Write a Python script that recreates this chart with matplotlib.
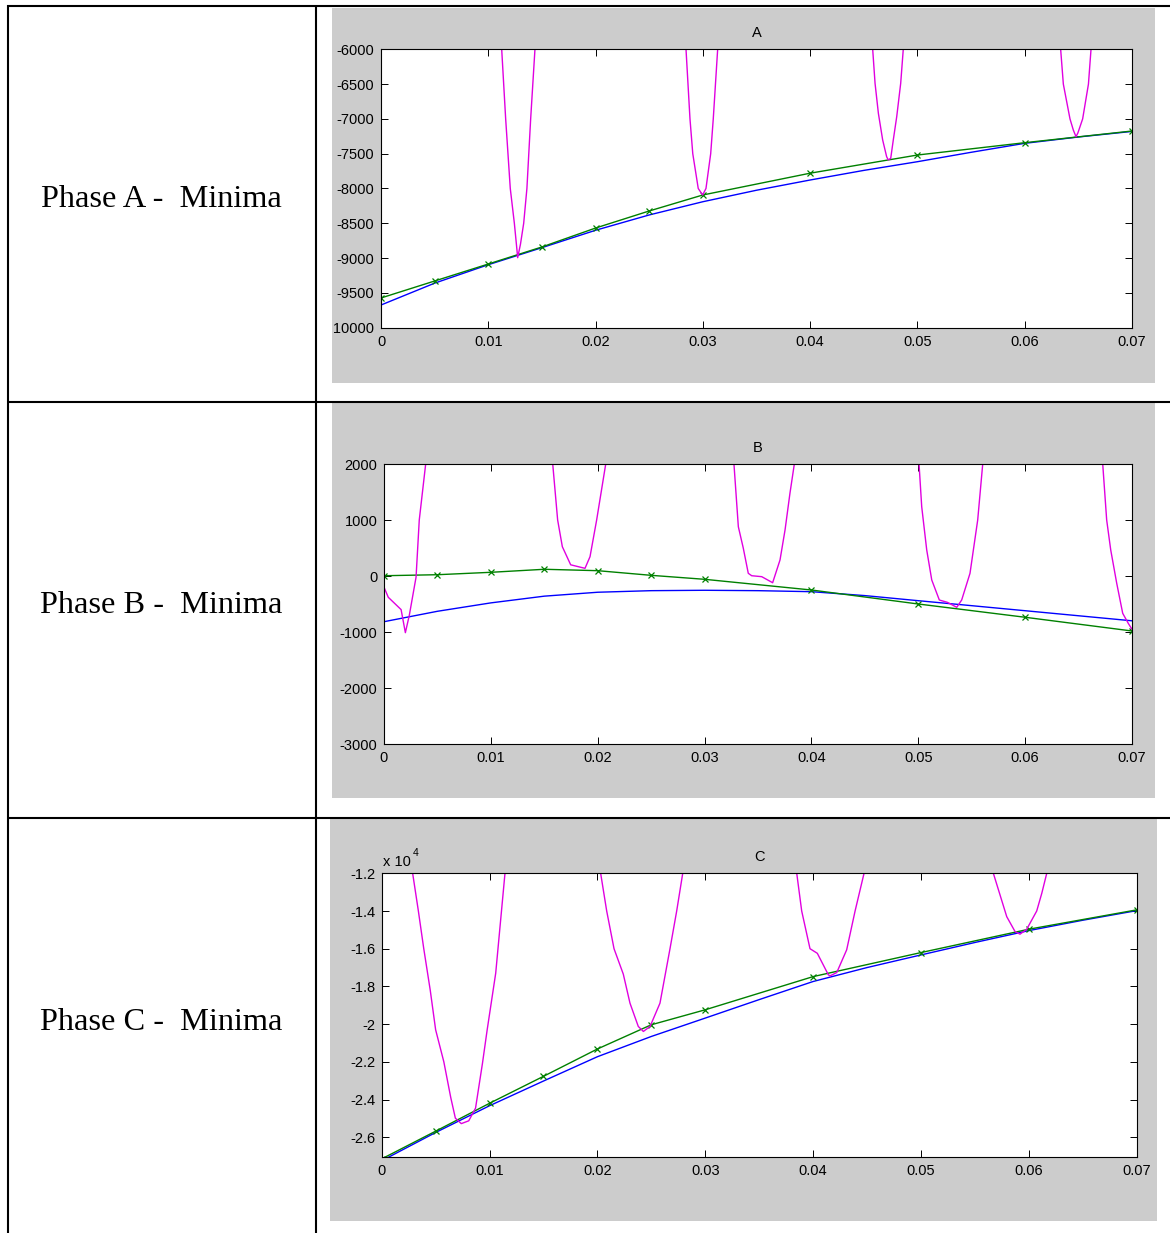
import matplotlib
matplotlib.use("Agg")
import matplotlib.pyplot as plt
from matplotlib.patches import Rectangle
from matplotlib.lines import Line2D
from matplotlib.transforms import Bbox, TransformedBbox
import numpy as np

plt.rcParams["font.family"] = ["Liberation Sans", "DejaVu Sans"]
plt.rcParams["axes.unicode_minus"] = False

# ---------------- data ----------------
x_ticks = [0, 0.01, 0.02, 0.03, 0.04, 0.05, 0.06, 0.07]
x_tick_labels = ["0", "0.01", "0.02", "0.03", "0.04", "0.05", "0.06", "0.07"]

# fitted curve with markers (green)
fit_x = [0, 0.005, 0.01, 0.015, 0.02, 0.025, 0.03, 0.04, 0.05, 0.06, 0.07]
# reference curve (blue), sampled every 0.005
ref_x = [0, 0.005, 0.01, 0.015, 0.02, 0.025, 0.03, 0.035, 0.04, 0.045,
         0.05, 0.055, 0.06, 0.065, 0.07]

# Phase A
fit_a = [-9573, -9329, -9085, -8840, -8568, -8323, -8093, -7780, -7519, -7342, -7174]
ref_a = [-9674, -9360, -9095, -8850, -8600, -8380, -8190, -8025, -7878, -7740,
         -7615, -7480, -7351, -7260, -7180]
mag_a_x = [0.01125, 0.01162, 0.01205, 0.01243, 0.01262, 0.01274, 0.01300, 0.01330, 0.01360, 0.01395, 0.01435, np.nan,
           0.02843, 0.02880, 0.02906, 0.02957, 0.02998, 0.03029, 0.03073, 0.03097, 0.03138, np.nan,
           0.04583, 0.04605, 0.04636, 0.04676, 0.04713, 0.04728, 0.04751, 0.04775, 0.04807, 0.04844, 0.04868, np.nan,
           0.06335, 0.06360, 0.06422, 0.06453, 0.06478, 0.06496, 0.06540, 0.06594, 0.06618]
mag_a_y = [-6000, -7000, -8000, -8500, -8800, -8994, -8800, -8500, -8000, -7000, -6000, np.nan,
           -6000, -7000, -7500, -8000, -8093, -8000, -7500, -7000, -6000, np.nan,
           -6000, -6489, -6920, -7303, -7543, -7590, -7566, -7303, -6968, -6489, -6000, np.nan,
           -6000, -6500, -7000, -7160, -7256, -7200, -7000, -6500, -6000]
y_ticks_a = [-10000, -9500, -9000, -8500, -8000, -7500, -7000, -6500, -6000]

# Phase B
fit_b = [5, 23, 66, 120, 95, 12, -59, -250, -500, -737, -982]
ref_b = [-816, -630, -480, -360, -290, -262, -255, -262, -280, -350,
         -441, -530, -620, -710, -800]
mag_b_x = [0, 0.0004, 0.0016, 0.0020, 0.00237, 0.0030, 0.0033, 0.0039, np.nan,
           0.01579, 0.01625, 0.01669, 0.01747, 0.01881, 0.01928, 0.01990, 0.02075, np.nan,
           0.03275, 0.03316, 0.03362, 0.03409, 0.03441, 0.03535, 0.03637, 0.03706, 0.03753, 0.03799, 0.03840, np.nan,
           0.05007, 0.05032, 0.05079, 0.05126, 0.05197, 0.05272, 0.05360, 0.05406, 0.05484, 0.05556, 0.05603, np.nan,
           0.06726, 0.06763, 0.06801, 0.06857, 0.06913, 0.06965, 0.07]
mag_b_y = [-200, -380, -600, -1012, -700, -20, 1000, 2000, np.nan,
           2000, 1000, 523, 200, 137, 345, 1000, 2000, np.nan,
           2000, 880, 500, 48, 5, -12, -120, 286, 821, 1477, 2000, np.nan,
           2000, 1238, 464, -71, -429, -470, -559, -429, 48, 1000, 2000, np.nan,
           2000, 1000, 464, -130, -666, -845, -952]
y_ticks_b = [-3000, -2000, -1000, 0, 1000, 2000]

# Phase C
fit_c = [-27150, -25680, -24200, -22770, -21320, -20035, -19240, -17480, -16205, -14966, -13940]
ref_c = [-27250, -25750, -24330, -23020, -21730, -20655, -19680, -18700, -17740, -17000,
         -16330, -15670, -15040, -14490, -13980]
mag_c_x = [0.00287, 0.0034, 0.0039, 0.0045, 0.0050, 0.00576, 0.0064, 0.00683, 0.00738, 0.00807, 0.0087, 0.00934, 0.00978, 0.01057, 0.01143, np.nan,
           0.0203, 0.02086, 0.02154, 0.0224, 0.02302, 0.02379, 0.02426, 0.02488, 0.0258, 0.02673, 0.02735, 0.02791, np.nan,
           0.03848, 0.03894, 0.03971, 0.04039, 0.04141, 0.04157, 0.04219, 0.04311, 0.04389, 0.04472, np.nan,
           0.05671, 0.05733, 0.05795, 0.05872, 0.05918, 0.0598, 0.06073, 0.0612, 0.06166]
mag_c_y = [-12000, -14000, -16000, -18200, -20300, -22000, -23890, -24990, -25280, -25130, -24460, -22090, -20300, -17300, -12000, np.nan,
           -12000, -14000, -16000, -17350, -18890, -20125, -20390, -20125, -18890, -16000, -14000, -12000, np.nan,
           -12000, -14000, -16000, -16245, -17385, -17440, -17265, -16060, -14000, -12000, np.nan,
           -12000, -13150, -14300, -15090, -15230, -14970, -14000, -13060, -12000]
y_ticks_c = [-26000, -24000, -22000, -20000, -18000, -16000, -14000, -12000]
y_tick_labels_c = ["-2.6", "-2.4", "-2.2", "-2", "-1.8", "-1.6", "-1.4", "-1.2"]

row_labels = ["Phase A -  Minima", "Phase B -  Minima", "Phase C -  Minima"]
titles = ["A", "B", "C"]

# ---------------- figure ----------------
W, H = 1170, 1233
fig = plt.figure(figsize=(W / 100, H / 100), dpi=100)
fig.patch.set_facecolor("white")


def fbox(l, t, r, b):
    return [l / W, 1 - b / H, (r - l) / W, (b - t) / H]


# table grid
def hline(y, x0, x1):
    fig.add_artist(Line2D([x0 / W, x1 / W], [1 - y / H, 1 - y / H],
                          transform=fig.transFigure, color="black", lw=1.5, zorder=5,
                          solid_capstyle="butt"))


def vline(x, y0, y1):
    fig.add_artist(Line2D([x / W, x / W], [1 - y0 / H, 1 - y1 / H],
                          transform=fig.transFigure, color="black", lw=1.5, zorder=5,
                          solid_capstyle="butt"))


hline(6, 7, W)
hline(401.7, 7, W)
hline(817.7, 7, W)
vline(8, 5, H)
vline(316, 5, H)

# grey figure panels (left, top, right, bottom in pixels)
panels = [(332, 7.5, 1155, 383), (332, 403, 1155, 798), (330, 819, 1157, 1221)]
axes_px = [(381, 49.3, 1132, 327.7), (384, 464, 1132, 744), (381.7, 873.3, 1136.7, 1157)]
label_baselines = [206.7, 612.5, 1030]

label_clips = []
for (l, t, r, b) in panels:
    fig.add_artist(Rectangle((l / W, 1 - b / H), (r - l) / W, (b - t) / H,
                             transform=fig.transFigure, facecolor="#cccccc",
                             edgecolor="none", zorder=-1))
    label_clips.append(TransformedBbox(Bbox([[(l + 1.5) / W, 1 - b / H], [r / W, 1 - t / H]]),
                                       fig.transFigure))

for lbl, yb in zip(row_labels, label_baselines):
    fig.text(161.5 / W, 1 - yb / H, lbl, ha="center", va="baseline",
             fontsize=23.3, family="Liberation Serif", color="black")

series = [
    (fit_a, ref_a, mag_a_x, mag_a_y, (-10000, -6000), y_ticks_a, [str(v) for v in y_ticks_a]),
    (fit_b, ref_b, mag_b_x, mag_b_y, (-3000, 2000), y_ticks_b, [str(v) for v in y_ticks_b]),
    (fit_c, ref_c, mag_c_x, mag_c_y, (-27050, -12000), y_ticks_c, y_tick_labels_c),
]

FS = 10.5
for i, (fit, ref, mx, my, ylim, yt, ytl) in enumerate(series):
    ax = fig.add_axes(fbox(*axes_px[i]))
    ax.set_facecolor("white")
    ax.plot(ref_x, ref, color="#0000ff", lw=1.0)
    ax.plot(fit_x, fit, color="#008000", lw=1.0, marker="x", ms=4, mew=0.9)
    ax.plot(mx, my, color="#e000e0", lw=1.0)
    ax.set_xlim(0, 0.07)
    ax.set_ylim(*ylim)
    ax.set_xticks(x_ticks)
    ax.set_xticklabels(x_tick_labels)
    ax.set_yticks(yt)
    ax.set_yticklabels(ytl)
    ax.tick_params(direction="in", top=True, right=True, length=4.8, width=0.7,
                   labelsize=FS, colors="black")
    ax.tick_params(axis="x", pad=5)
    ax.tick_params(axis="y", pad=4.8)
    for s in ax.spines.values():
        s.set_linewidth(0.8)
        s.set_color("black")
    ax.set_title(titles[i], fontsize=FS, pad=9)
    for t in ax.yaxis.get_major_ticks():
        t.label1.set_clip_box(label_clips[i])
        t.label1.set_clip_on(True)

# exponent marker for the C axis
fig.text(382.7 / W, 1 - 865.5 / H, "x 10", fontsize=FS, va="baseline", ha="left")
fig.text(412.5 / W, 1 - 856.5 / H, "4", fontsize=7.5, va="baseline", ha="left")

fig.savefig("out.png", dpi=100, facecolor="white")
